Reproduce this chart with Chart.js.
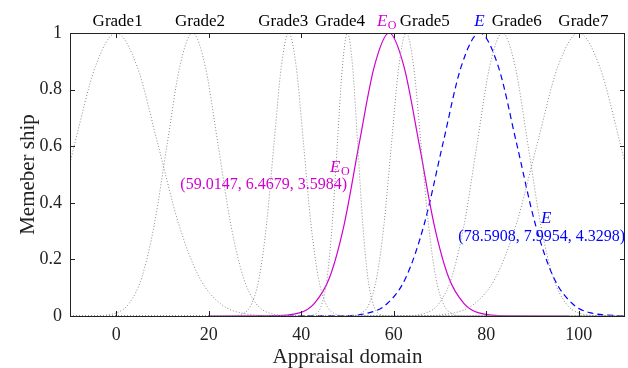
<!DOCTYPE html>
<html>
<head>
<meta charset="utf-8">
<script src="https://cdn.jsdelivr.net/npm/chart.js@4.4.1/dist/chart.umd.min.js"></script>
<style>
  body { margin: 0; background: #fff; }
  canvas { display: block; }
</style>
</head>
<body>
<canvas id="grafico" width="628" height="368"></canvas>
<script>
// membership curves (x in appraisal domain, y in membership)
const grade1X = [-10, -9, -4.5, 0, 4.5, 9, 13.5, 18, 22.5, 27, 36, 110];
const grade1Y = [0.54, 0.607, 0.882, 1, 0.882, 0.607, 0.325, 0.135, 0.044, 0.011, 0.0003, 0];

const grade2X = [-10, -5.5, 0, 2.75, 5.5, 8.25, 11, 13.75, 16.5, 19.25, 22, 24.75, 27.5, 30.25, 33, 38.5, 110];
const grade2Y = [0, 0.0003, 0.011, 0.044, 0.135, 0.325, 0.607, 0.882, 1, 0.882, 0.607, 0.325, 0.135, 0.044, 0.011, 0.0003, 0];

const grade3X = [-10, 24.5, 27.7, 29.3, 30.9, 32.5, 34.1, 35.7, 37.3, 38.9, 40.5, 42.1, 43.7, 45.3, 46.9, 50.1, 110];
const grade3Y = [0, 0.0003, 0.011, 0.044, 0.135, 0.325, 0.607, 0.882, 1, 0.882, 0.607, 0.325, 0.135, 0.044, 0.011, 0.0003, 0];

const grade4X = [-10, 41.2, 43.4, 44.5, 45.6, 46.7, 47.8, 48.9, 50, 51.1, 52.2, 53.3, 54.4, 55.5, 56.6, 58.8, 110];
const grade4Y = [0, 0.0003, 0.011, 0.044, 0.135, 0.325, 0.607, 0.882, 1, 0.882, 0.607, 0.325, 0.135, 0.044, 0.011, 0.0003, 0];

const grade5X = [-10, 49.9, 53.1, 54.7, 56.3, 57.9, 59.5, 61.1, 62.7, 64.3, 65.9, 67.5, 69.1, 70.7, 72.3, 75.5, 110];
const grade5Y = [0, 0.0003, 0.011, 0.044, 0.135, 0.325, 0.607, 0.882, 1, 0.882, 0.607, 0.325, 0.135, 0.044, 0.011, 0.0003, 0];

const grade6X = [-10, 61.5, 67, 69.75, 72.5, 75.25, 78, 80.75, 83.5, 86.25, 89, 91.75, 94.5, 97.25, 100, 105.5, 110];
const grade6Y = [0, 0.0003, 0.011, 0.044, 0.135, 0.325, 0.607, 0.882, 1, 0.882, 0.607, 0.325, 0.135, 0.044, 0.011, 0.0003, 0];

const grade7X = [-10, 64, 73, 77.5, 82, 86.5, 91, 95.5, 100, 104.5, 109, 110];
const grade7Y = [0, 0.0003, 0.011, 0.044, 0.135, 0.325, 0.607, 0.882, 1, 0.882, 0.607, 0.54];

const eoX = [20.2, 33.1, 39.6, 42.8, 46.1, 49.3, 52.5, 55.8, 59.0, 62.2, 65.5, 68.7, 71.9, 75.2, 78.4, 84.9, 97.8];
const eoY = [0, 0.0003, 0.011, 0.044, 0.135, 0.325, 0.607, 0.882, 1, 0.882, 0.607, 0.325, 0.135, 0.044, 0.011, 0.0003, 0];

const eX = [30.6, 46.6, 54.6, 58.6, 62.6, 66.6, 70.6, 74.6, 78.6, 82.6, 86.6, 90.6, 94.6, 98.6, 102.6, 110];
const eY = [0, 0.0003, 0.011, 0.044, 0.135, 0.325, 0.607, 0.882, 1, 0.882, 0.607, 0.325, 0.135, 0.044, 0.011, 0.0004];

const gradeNames = ['Grade1', 'Grade2', 'Grade3', 'Grade4', 'Grade5', 'Grade6', 'Grade7'];
const eoParams = '(59.0147, 6.4679, 3.5984)';
const eParams = '(78.5908, 7.9954, 4.3298)';

const xTicks = [0, 20, 40, 60, 80, 100];
const yTicks = [0, 0.2, 0.4, 0.6, 0.8, 1];

const FONT = "'Liberation Serif', 'Times New Roman', serif";
const MAGENTA = '#d000d0';
const BLUE = '#0000ff';

const pares = (xs, ys) => xs.map((x, i) => ({ x: x, y: ys[i] }));

const gradeCurves = [
    [grade1X, grade1Y], [grade2X, grade2Y], [grade3X, grade3Y], [grade4X, grade4Y],
    [grade5X, grade5Y], [grade6X, grade6Y], [grade7X, grade7Y]
];

const datasets = gradeCurves.map((c, i) => ({
    label: gradeNames[i],
    data: pares(c[0], c[1]),
    borderColor: '#8a8a8a',
    borderWidth: 1,
    borderDash: [1, 2]
}));
datasets.push({
    label: 'Eo',
    data: pares(eoX, eoY),
    borderColor: MAGENTA,
    borderWidth: 1.2
});
datasets.push({
    label: 'E',
    data: pares(eX, eY),
    borderColor: BLUE,
    borderWidth: 1.2,
    borderDash: [6, 4]
});

// box, inward ticks on all sides and the text labels
const moldura = {
    id: 'moldura',
    afterDraw(chart) {
        const ctx = chart.ctx;
        const a = chart.chartArea;
        const sx = chart.scales.x;
        const sy = chart.scales.y;
        ctx.save();
        ctx.strokeStyle = '#222';
        ctx.lineWidth = 1;
        ctx.strokeRect(a.left + 0.5, a.top + 0.5, a.right - a.left - 1, a.bottom - a.top);
        const len = 5;
        ctx.beginPath();
        xTicks.forEach(v => {
            const px = Math.round(sx.getPixelForValue(v)) + 0.5;
            ctx.moveTo(px, a.bottom); ctx.lineTo(px, a.bottom - len);
            ctx.moveTo(px, a.top); ctx.lineTo(px, a.top + len);
        });
        yTicks.forEach(v => {
            const py = Math.round(sy.getPixelForValue(v)) + 0.5;
            ctx.moveTo(a.left, py); ctx.lineTo(a.left + len, py);
            ctx.moveTo(a.right, py); ctx.lineTo(a.right - len, py);
        });
        ctx.stroke();

        // labels above the plot
        const topY = 26;
        const gradeAt = [0.3, 18.1, 36.1, 48.4, 66.7, 86.6, 101];
        ctx.fillStyle = '#000';
        ctx.font = '17px ' + FONT;
        ctx.textAlign = 'center';
        ctx.textBaseline = 'alphabetic';
        gradeNames.forEach((g, i) => ctx.fillText(g, sx.getPixelForValue(gradeAt[i]), topY));

        const subE = (x, y, color, sub) => {
            ctx.fillStyle = color;
            ctx.textAlign = 'left';
            ctx.font = 'italic 17px ' + FONT;
            ctx.fillText('E', x, y);
            if (sub) {
                const w = ctx.measureText('E').width;
                ctx.font = '12px ' + FONT;
                ctx.fillText(sub, x + w + 0.5, y + 3);
            }
        };
        subE(sx.getPixelForValue(58.3) - 9, topY, MAGENTA, 'O');
        subE(sx.getPixelForValue(78.5) - 5, topY, BLUE, null);

        // curve annotations
        subE(330, 172, MAGENTA, 'O');
        ctx.font = '16px ' + FONT;
        ctx.textAlign = 'right';
        ctx.fillStyle = MAGENTA;
        ctx.fillText(eoParams, 347, 189);
        subE(541, 223, BLUE, null);
        ctx.font = '16px ' + FONT;
        ctx.textAlign = 'right';
        ctx.fillStyle = BLUE;
        ctx.fillText(eParams, 625, 241);

        // axis titles
        ctx.fillStyle = '#222';
        ctx.font = '21px ' + FONT;
        ctx.textAlign = 'center';
        ctx.fillText('Appraisal domain', (a.left + a.right) / 2, 363);
        ctx.translate(34, (a.top + a.bottom) / 2);
        ctx.rotate(-Math.PI / 2);
        ctx.fillText('Memeber ship', 0, 0);
        ctx.restore();
    }
};

new Chart(document.getElementById('grafico').getContext('2d'), {
    type: 'line',
    data: { datasets: datasets },
    options: {
        responsive: false,
        animation: false,
        parsing: true,
        layout: { padding: { left: 0, right: 3, top: 33, bottom: 0 } },
        elements: {
            point: { radius: 0 },
            line: { cubicInterpolationMode: 'monotone', fill: false }
        },
        plugins: {
            legend: { display: false },
            tooltip: { enabled: false }
        },
        scales: {
            x: {
                type: 'linear',
                min: -10,
                max: 110,
                grid: { display: false, drawTicks: false },
                border: { display: false },
                afterBuildTicks: s => { s.ticks = xTicks.map(v => ({ value: v })); },
                afterFit: s => { s.height = 52; },
                ticks: {
                    padding: 8,
                    color: '#222',
                    font: { family: FONT, size: 18 },
                    maxRotation: 0
                }
            },
            y: {
                type: 'linear',
                min: 0,
                max: 1,
                grid: { display: false, drawTicks: false },
                border: { display: false },
                afterBuildTicks: s => { s.ticks = yTicks.map(v => ({ value: v })); },
                afterFit: s => { s.width = 70; },
                ticks: {
                    padding: 8,
                    color: '#222',
                    font: { family: FONT, size: 18 },
                    callback: v => String(v)
                }
            }
        }
    },
    plugins: [moldura]
});
</script>
</body>
</html>
